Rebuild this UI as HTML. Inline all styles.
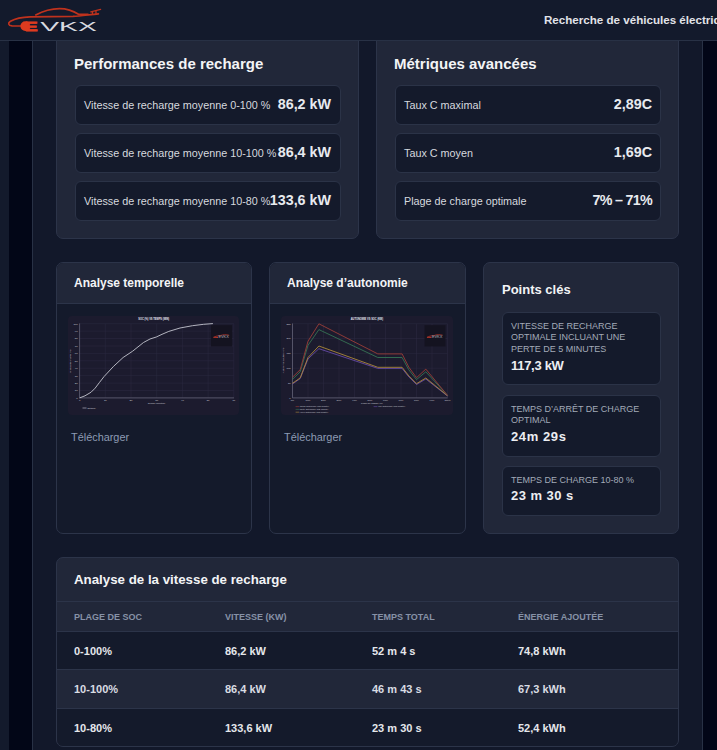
<!DOCTYPE html>
<html lang="fr">
<head>
<meta charset="utf-8">
<title>EVKX</title>
<style>
*{box-sizing:border-box;margin:0;padding:0}
html,body{width:717px;height:750px;overflow:hidden}
body{background:#020617;font-family:"Liberation Sans",Arial,sans-serif;color:#e5e7eb;position:relative}
.lstrip{position:absolute;left:0;top:0;width:9px;height:750px;background:#131a2c}
.main{position:absolute;left:32px;top:0;width:671px;height:750px;background:#12182a;border-left:1px solid #283145;border-right:1px solid #283145}
.hdr{position:absolute;left:0;top:0;width:717px;height:41px;background:#131a2c;border-bottom:1px solid #283145;z-index:5}
.hdr .nav{position:absolute;left:544px;top:13px;font-size:11.6px;font-weight:bold;white-space:nowrap;color:#e1e3e9}
.card{position:absolute;background:#212739;border:1px solid #2c3449;border-radius:7px}
.box{position:absolute;background:#141a2b;border:1px solid #2b3347;border-radius:6px}
.t15{font-size:15px;font-weight:bold;color:#f3f4f6;position:absolute;white-space:nowrap}
.lbl{position:absolute;left:8px;top:13px;font-size:10.8px;color:#d6d9df;white-space:nowrap}
.val{position:absolute;right:9px;top:10px;font-size:14.3px;font-weight:bold;color:#e8eaef;white-space:nowrap}
.ccard{position:absolute;top:262px;height:272px;background:#141a2b;border:1px solid #2c3449;border-radius:7px;overflow:hidden}
.ccard .ch{height:41px;background:#212739;border-bottom:1px solid #2c3449;position:relative}
.ccard .ch span{position:absolute;left:17px;top:13px;font-size:12px;font-weight:bold;color:#f3f4f6;white-space:nowrap}
.chart{position:absolute;display:block}
.dl{position:absolute;top:168px;left:14px;font-size:10.9px;color:#8d9bb3;font-weight:normal}
.kbox{position:absolute;left:18px;width:159px;background:#141a2b;border:1px solid #2b3347;border-radius:6px}
.kbox .k{position:absolute;left:8px;top:8px;font-size:9px;line-height:11.25px;color:#a3aab8;width:141px}
.kbox .v{position:absolute;left:8px;font-size:13px;font-weight:bold;color:#eceef2;white-space:nowrap}
.tcard{position:absolute;left:56px;top:557px;width:623px;height:190px;background:#212739;border:1px solid #2c3449;border-radius:7px;overflow:hidden}
.tcard .tt{position:absolute;left:17px;top:14px;font-size:13.3px;font-weight:bold;color:#f3f4f6;white-space:nowrap}
.trow{position:absolute;left:0;width:621px;border-top:1px solid #2c3449}
.trow span{position:absolute;white-space:nowrap}
.th span{font-size:9px;font-weight:bold;color:#8792a7;top:10px}
.td span{font-size:11px;font-weight:bold;top:13px}
.td{color:#e5e7eb}
</style>
</head>
<body>
<div class="lstrip"></div>
<div class="main"></div>

<div class="hdr">
  <svg width="110" height="40" viewBox="0 0 110 40" style="position:absolute;left:0;top:0">
    <g fill="none" stroke="#bf321d" stroke-width="1.7" stroke-linecap="round" stroke-linejoin="round">
      <path d="M98.4 13.9C90 14.6 81 16 73 16.4L30 16.9C22 17.1 14.5 19 10.5 21.3C7.6 23 8.2 25.6 12 25.9L21.5 26"/>
      <path d="M35.7 14.9C42 11.6 51 8.7 59.5 8.6C67.5 8.6 73.5 11 78.5 14.3L88 14.4"/>
      <path d="M90.8 11.8L100.6 9.3M92.6 11.8L92.4 14.3M96.1 10.9L95.9 14.1" stroke-width="1.3"/>
    </g>
    <path d="M27.5 21.2H25.3A4.9 4.9 0 0 0 25.3 31H27.5Z" fill="#dd3b1f"/>
    <text x="25" y="30.5" font-family="Liberation Sans, sans-serif" font-size="12.9" font-weight="bold" fill="#dd3b1f" stroke="#dd3b1f" stroke-width="0.8" textLength="12.6" lengthAdjust="spacingAndGlyphs">E</text>
    <text x="40.2" y="30.8" font-family="Liberation Sans, sans-serif" font-size="13.6" fill="#d9dae0" textLength="56.6" lengthAdjust="spacingAndGlyphs">VKX</text>
  </svg>
  <div class="nav">Recherche de véhicules électriques</div>
</div>

<!-- Row 1 -->
<div class="card" style="left:56px;top:20px;width:303px;height:219px">
  <div class="t15" style="left:17px;top:34px">Performances de recharge</div>
  <div class="box" style="left:18px;top:64px;width:266px;height:40px"><span class="lbl">Vitesse de recharge moyenne 0-100 %</span><span class="val">86,2 kW</span></div>
  <div class="box" style="left:18px;top:112px;width:266px;height:40px"><span class="lbl">Vitesse de recharge moyenne 10-100 %</span><span class="val">86,4 kW</span></div>
  <div class="box" style="left:18px;top:160px;width:266px;height:40px"><span class="lbl">Vitesse de recharge moyenne 10-80 %</span><span class="val">133,6 kW</span></div>
</div>
<div class="card" style="left:376px;top:20px;width:303px;height:219px">
  <div class="t15" style="left:17px;top:34px">Métriques avancées</div>
  <div class="box" style="left:18px;top:64px;width:266px;height:40px"><span class="lbl">Taux C maximal</span><span class="val" style="right:8px">2,89C</span></div>
  <div class="box" style="left:18px;top:112px;width:266px;height:40px"><span class="lbl">Taux C moyen</span><span class="val" style="right:8px">1,69C</span></div>
  <div class="box" style="left:18px;top:160px;width:266px;height:40px"><span class="lbl">Plage de charge optimale</span><span class="val" style="right:8px;letter-spacing:-0.7px">7% – 71%</span></div>
</div>

<!-- Row 2 -->
<div class="ccard" style="left:56px;width:196px">
  <div class="ch"><span>Analyse temporelle</span></div>
  <svg class="chart" style="left:11px;top:53px" width="171" height="99" viewBox="68 316 171 99">
<rect x="68" y="316" width="171" height="99" rx="4" fill="#1c1b2e"/>
<path d="M79.6 323.7V397.9 M105.3 323.7V397.9 M131.0 323.7V397.9 M156.7 323.7V397.9 M182.4 323.7V397.9 M208.1 323.7V397.9 M233.8 323.7V397.9 M79.6 323.7H233.8 M79.6 331.1H233.8 M79.6 338.5H233.8 M79.6 346.0H233.8 M79.6 353.4H233.8 M79.6 360.8H233.8 M79.6 368.2H233.8 M79.6 375.6H233.8 M79.6 383.1H233.8 M79.6 390.5H233.8 M79.6 397.9H233.8" stroke="#2c2b42" stroke-width="0.5" fill="none"/>
<path d="M79.6 323.4V397.9H234" stroke="#77778a" stroke-width="0.6" fill="none"/>
<g font-family="Liberation Sans,sans-serif" font-size="2.5" fill="#d4d6de"><text x="77.6" y="324.6" text-anchor="end">100</text><text x="77.6" y="332.0" text-anchor="end">90</text><text x="77.6" y="339.4" text-anchor="end">80</text><text x="77.6" y="346.9" text-anchor="end">70</text><text x="77.6" y="354.3" text-anchor="end">60</text><text x="77.6" y="361.7" text-anchor="end">50</text><text x="77.6" y="369.1" text-anchor="end">40</text><text x="77.6" y="376.5" text-anchor="end">30</text><text x="77.6" y="384.0" text-anchor="end">20</text><text x="77.6" y="391.4" text-anchor="end">10</text><text x="77.6" y="398.8" text-anchor="end">0</text><text x="79.6" y="401.3" text-anchor="middle">0</text><text x="105.3" y="401.3" text-anchor="middle">10</text><text x="131.0" y="401.3" text-anchor="middle">20</text><text x="156.7" y="401.3" text-anchor="middle">30</text><text x="182.4" y="401.3" text-anchor="middle">40</text><text x="208.1" y="401.3" text-anchor="middle">50</text><text x="233.8" y="401.3" text-anchor="middle">60</text></g>
<text x="138.2" y="320.4" font-family="Liberation Sans,sans-serif" font-size="2.9" font-weight="bold" fill="#e4e8f4" textLength="31" lengthAdjust="spacingAndGlyphs">SOC (%) VS TEMPS (MIN)</text>
<text x="156.5" y="404.4" text-anchor="middle" font-family="Liberation Sans,sans-serif" font-size="2.4" fill="#c9cbd6">Temps (minutes)</text>
<text transform="translate(71.2 361) rotate(-90)" text-anchor="middle" font-family="Liberation Sans,sans-serif" font-size="2.4" fill="#ddc8d2">Niveau de charge (%)</text>
<path d="M82.5 408H86.5" stroke="#c9cbd6" stroke-width="0.6"/><text x="87.2" y="408.8" font-family="Liberation Sans,sans-serif" font-size="2.4" fill="#c9cbd6">Optimal</text>
<rect x="211" y="325.2" width="21" height="21.2" fill="#141320"/><path d="M213.6 337.5C215 336.2 218 335.59999999999997 221 335.4C223 334.4 226 334.3 229.2 335.2" stroke="#b3352a" stroke-width="0.7" fill="none"/><path d="M213.4 337.2L218 337.4" stroke="#b3352a" stroke-width="1.1"/><text x="218.4" y="338.4" font-family="Liberation Sans,sans-serif" font-size="2.9" fill="#aeaeb8" textLength="10.4" lengthAdjust="spacingAndGlyphs">EVKX</text>
<path d="M79.6 397.9 L85.0 395.8 L91.1 392.2 L95.2 388.1 L99.5 382.4 L104.1 376.5 L113.6 366.3 L123.1 357.5 L132.6 351.2 L143.5 342.5 L150.0 339.0 L156.3 337.0 L162.0 334.3 L168.8 331.4 L180.0 328.0 L192.5 325.7 L203.7 324.3 L212.9 323.6" stroke="#c4c5cf" stroke-width="0.9" fill="none" stroke-linejoin="round"/>
</svg>
  <div class="dl">Télécharger</div>
</div>
<div class="ccard" style="left:269px;width:197px">
  <div class="ch"><span>Analyse d’autonomie</span></div>
  <svg class="chart" style="left:11px;top:53px" width="172" height="99" viewBox="281 316 172 99">
<rect x="281" y="316" width="172" height="99" rx="4" fill="#1c1b2e"/>
<path d="M292.5 323.7V397.9 M308.0 323.7V397.9 M323.5 323.7V397.9 M339.0 323.7V397.9 M354.5 323.7V397.9 M370.0 323.7V397.9 M385.5 323.7V397.9 M401.0 323.7V397.9 M416.5 323.7V397.9 M432.0 323.7V397.9 M447.5 323.7V397.9 M292.5 323.7H447.5 M292.5 338.5H447.5 M292.5 353.4H447.5 M292.5 368.2H447.5 M292.5 383.1H447.5 M292.5 397.9H447.5" stroke="#2c2b42" stroke-width="0.5" fill="none"/>
<path d="M292.5 323.4V397.9H447.7" stroke="#77778a" stroke-width="0.6" fill="none"/>
<g font-family="Liberation Sans,sans-serif" font-size="2.4" fill="#d4d6de"><text x="290.6" y="324.6" text-anchor="end">250</text><text x="290.6" y="339.4" text-anchor="end">200</text><text x="290.6" y="354.3" text-anchor="end">150</text><text x="290.6" y="369.1" text-anchor="end">100</text><text x="290.6" y="384.0" text-anchor="end">50</text><text x="290.6" y="398.8" text-anchor="end">0</text><text x="292.5" y="401.3" text-anchor="middle">0%</text><text x="308.0" y="401.3" text-anchor="middle">10%</text><text x="323.5" y="401.3" text-anchor="middle">20%</text><text x="339.0" y="401.3" text-anchor="middle">30%</text><text x="354.5" y="401.3" text-anchor="middle">40%</text><text x="370.0" y="401.3" text-anchor="middle">50%</text><text x="385.5" y="401.3" text-anchor="middle">60%</text><text x="401.0" y="401.3" text-anchor="middle">70%</text><text x="416.5" y="401.3" text-anchor="middle">80%</text><text x="432.0" y="401.3" text-anchor="middle">90%</text><text x="447.5" y="401.3" text-anchor="middle">100%</text></g>
<text x="350.7" y="320.4" font-family="Liberation Sans,sans-serif" font-size="2.9" font-weight="bold" fill="#e4e8f4" textLength="32.4" lengthAdjust="spacingAndGlyphs">AUTONOMIE VS SOC (KM)</text>
<text x="372" y="404.4" text-anchor="middle" font-family="Liberation Sans,sans-serif" font-size="2.4" fill="#c9cbd6">Plage de charge (%)</text>
<text transform="translate(284.2 360.5) rotate(-90)" text-anchor="middle" font-family="Liberation Sans,sans-serif" font-size="2.4" fill="#ddc8d2">Autonomie ajoutée (km)</text>
<path d="M295.6 406.6H299.20000000000005" stroke="#9a3d38" stroke-width="0.6"/><text x="299.8" y="407.40000000000003" font-family="Liberation Sans,sans-serif" font-size="2.2" fill="#c9cbd6">WLTP autonomie (par minute)</text>
<path d="M295.6 409.4H299.20000000000005" stroke="#367353" stroke-width="0.6"/><text x="299.8" y="410.2" font-family="Liberation Sans,sans-serif" font-size="2.2" fill="#c9cbd6">Mixte autonomie (par minute)</text>
<path d="M295.6 412.2H299.20000000000005" stroke="#ab883b" stroke-width="0.6"/><text x="299.8" y="413.0" font-family="Liberation Sans,sans-serif" font-size="2.2" fill="#c9cbd6">Hiver autonomie (par minute)</text>
<path d="M373.6 406.6H377.20000000000005" stroke="#6549a6" stroke-width="0.6"/><text x="377.8" y="407.40000000000003" font-family="Liberation Sans,sans-serif" font-size="2.2" fill="#c9cbd6">Ville autonomie (par minute)</text>
<rect x="424.5" y="325.2" width="21" height="21.2" fill="#141320"/><path d="M427.1 337.5C428.5 336.2 431.5 335.59999999999997 434.5 335.4C436.5 334.4 439.5 334.3 442.7 335.2" stroke="#b3352a" stroke-width="0.7" fill="none"/><path d="M426.9 337.2L431.5 337.4" stroke="#b3352a" stroke-width="1.1"/><text x="431.9" y="338.4" font-family="Liberation Sans,sans-serif" font-size="2.9" fill="#aeaeb8" textLength="10.4" lengthAdjust="spacingAndGlyphs">EVKX</text>
<path d="M292.5 384.0 L300.2 378.6 L308.0 358.9 L318.9 348.7 L377.8 368.4 L402.1 368.4 L408.8 376.9 L416.5 384.5 L425.8 379.0 L447.5 396.0" stroke="#6549a6" stroke-width="0.9" fill="none" stroke-linejoin="round"/>
<path d="M292.5 383.3 L300.2 377.9 L308.0 357.5 L318.9 346.0 L377.8 367.3 L402.1 367.3 L408.8 375.9 L416.5 383.7 L425.8 378.0 L447.5 395.7" stroke="#ab883b" stroke-width="0.9" fill="none" stroke-linejoin="round"/>
<path d="M292.5 379.3 L300.2 371.8 L308.0 345.3 L318.9 329.6 L377.8 357.5 L402.1 357.5 L408.8 369.8 L416.5 379.6 L425.8 371.8 L447.5 395.4" stroke="#367353" stroke-width="0.9" fill="none" stroke-linejoin="round"/>
<path d="M292.5 377.2 L300.2 369.7 L308.0 341.2 L318.9 323.8 L377.8 353.9 L402.1 353.9 L408.8 367.1 L416.5 377.7 L425.8 369.1 L447.5 395.4" stroke="#9a3d38" stroke-width="0.9" fill="none" stroke-linejoin="round"/>
</svg>
  <div class="dl">Télécharger</div>
</div>
<div class="card" style="left:483px;top:262px;width:196px;height:272px">
  <div class="t15" style="left:18px;top:19px;font-size:13px">Points clés</div>
  <div class="kbox" style="top:49px;height:73px"><div class="k">VITESSE DE RECHARGE OPTIMALE INCLUANT UNE PERTE DE 5 MINUTES</div><div class="v" style="top:45px;letter-spacing:-0.3px">117,3 kW</div></div>
  <div class="kbox" style="top:132px;height:62px"><div class="k">TEMPS D’ARRÊT DE CHARGE OPTIMAL</div><div class="v" style="top:33px;letter-spacing:0.6px">24m 29s</div></div>
  <div class="kbox" style="top:203px;height:50px"><div class="k">TEMPS DE CHARGE 10-80 %</div><div class="v" style="top:21px;letter-spacing:0.45px">23 m 30 s</div></div>
</div>

<!-- Table -->
<div class="tcard">
  <div class="tt">Analyse de la vitesse de recharge</div>
  <div class="trow th" style="top:43px;height:31px;background:#212739"><span style="left:17px">PLAGE DE SOC</span><span style="left:168px">VITESSE (KW)</span><span style="left:315px">TEMPS TOTAL</span><span style="left:461px">ÉNERGIE AJOUTÉE</span></div>
  <div class="trow td" style="top:73px;height:39px;background:#141a2b"><span style="left:17px">0-100%</span><span style="left:168px">86,2 kW</span><span style="left:315px">52 m 4 s</span><span style="left:461px">74,8 kWh</span></div>
  <div class="trow td" style="top:111px;height:40px;background:#212739;color:#d9dce3"><span style="left:17px">10-100%</span><span style="left:168px">86,4 kW</span><span style="left:315px">46 m 43 s</span><span style="left:461px">67,3 kWh</span></div>
  <div class="trow td" style="top:150px;height:40px;background:#141a2b"><span style="left:17px">10-80%</span><span style="left:168px">133,6 kW</span><span style="left:315px">23 m 30 s</span><span style="left:461px">52,4 kWh</span></div>
</div>
</body>
</html>
